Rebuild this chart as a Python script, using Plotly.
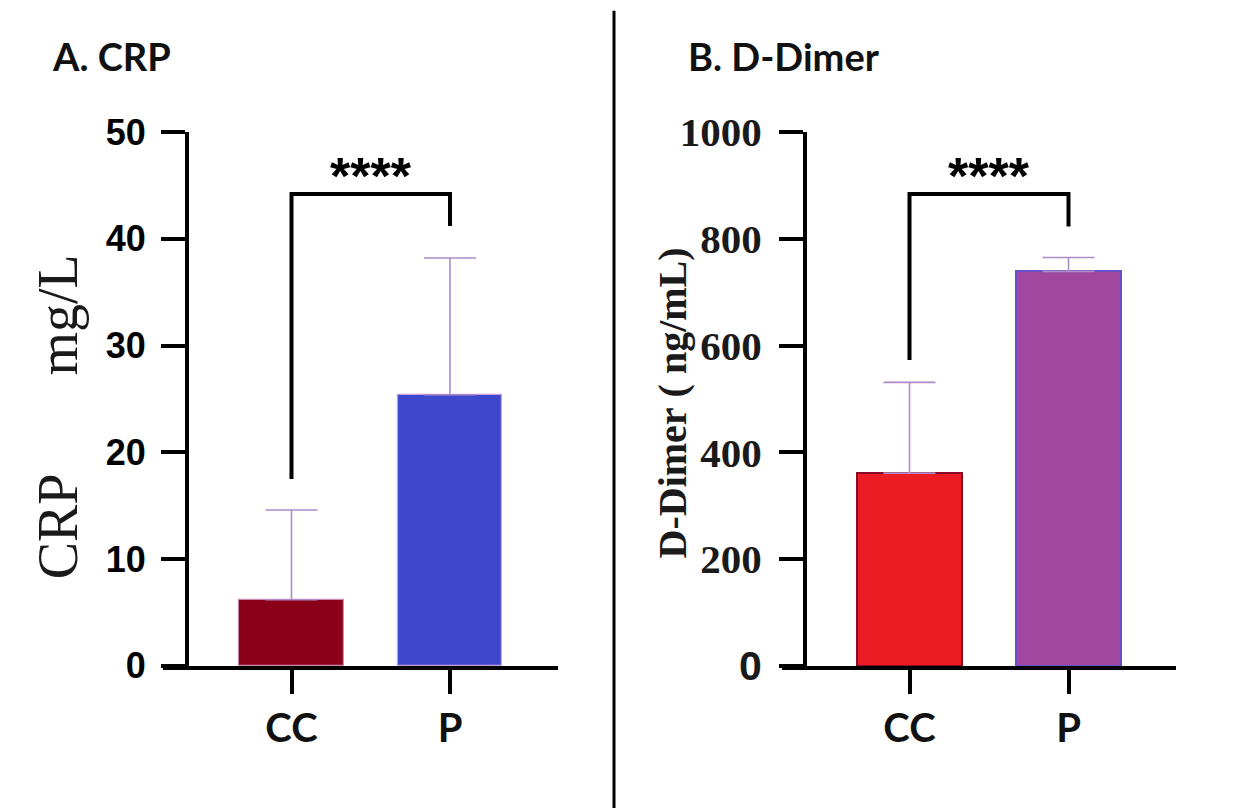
import plotly.graph_objects as go

# reference canvas; measured page mapping: screen_x = OX + fig_x, screen_y = AY + SY * fig_y
W, H = 1241, 808
OX = 8
AY, SY = 29.4, 0.948
FW, FH = W - OX, 800

# ---------------- data ----------------
groups = ["CC", "P"]
crp_mean = [6.2, 25.4]
crp_sd = [8.4, 12.8]
dd_mean = [361, 739]
dd_sd = [170, 26]

crp_ticks = [0, 10, 20, 30, 40, 50]
crp_ticktext = ["0", "10", "20", "30", "40", "50"]
dd_ticks = [0, 200, 400, 600, 800, 1000]
dd_ticktext = ["<span style='font-family:Liberation Sans'>0</span>", "200", "400", "600", "800", "1000"]

# significance brackets: [left leg bottom, bar height, right leg bottom, star centre]
crp_bracket = [17.5, 44.2, 41.2, 45.9]
dd_bracket = [573, 884, 823, 917]
sig_label = "****"

crp_colors = ["#8A0018", "#3F48CC"]
crp_lines = ["#C98BB0", "#C9A0D8"]
dd_colors = ["#EC1C24", "#A0479F"]
dd_lines = ["#8B0A2A", "#6A50C8"]
err_color = "#AD8AC8"


def px(v):
    return (v - OX) / FW


def py(v):
    return 1 - ((v - AY) / SY) / FH


fig = go.Figure()
xs = [0, 1]

fig.add_trace(go.Bar(
    x=xs, y=crp_mean, width=0.658, xaxis="x", yaxis="y",
    marker=dict(color=crp_colors, line=dict(color=crp_lines, width=1.2)),
    error_y=dict(type="data", array=crp_sd, arrayminus=[0, 0], symmetric=False,
                 color=err_color, thickness=1.6, width=26),
    showlegend=False, hoverinfo="skip"))

fig.add_trace(go.Bar(
    x=xs, y=dd_mean, width=0.655, xaxis="x2", yaxis="y2",
    marker=dict(color=dd_colors, line=dict(color=dd_lines, width=2)),
    error_y=dict(type="data", array=dd_sd, arrayminus=[0, 0], symmetric=False,
                 color=err_color, thickness=1.6, width=26),
    showlegend=False, hoverinfo="skip"))

ydom = [py(668), py(131)]
tickfont_x = dict(family="Lato", size=40, color="#111111", weight="bold")

fig.update_layout(
    width=FW, height=FH,
    margin=dict(l=0, r=0, t=0, b=0),
    paper_bgcolor="white", plot_bgcolor="rgba(0,0,0,0)",
    bargap=0,
    xaxis=dict(domain=[px(163), px(558)], range=[(163 - 291.5) / 158.5, (558 - 291.5) / 158.5],
               anchor="y", showgrid=False, zeroline=False, showline=True, linewidth=4,
               linecolor="black", ticks="outside", ticklen=24, tickwidth=4, tickcolor="black",
               tickvals=xs, ticktext=groups, tickfont=tickfont_x, fixedrange=True),
    yaxis=dict(domain=ydom, range=[0, 50], anchor="free", position=px(187),
               showgrid=False, zeroline=False, showline=True, linewidth=4, linecolor="black",
               ticks="outside", ticklen=24, tickwidth=4, tickcolor="black",
               tickvals=crp_ticks, ticktext=crp_ticktext, ticklabelstandoff=8,
               tickfont=dict(family="Liberation Sans", size=36, color="black", weight="bold"),
               fixedrange=True),
    xaxis2=dict(domain=[px(782), px(1176)], range=[(782 - 909.5) / 159, (1176 - 909.5) / 159],
                anchor="y2", showgrid=False, zeroline=False, showline=True, linewidth=4,
                linecolor="black", ticks="outside", ticklen=24, tickwidth=4, tickcolor="black",
                tickvals=xs, ticktext=groups, tickfont=tickfont_x, fixedrange=True),
    yaxis2=dict(domain=ydom, range=[0, 1000], anchor="free", position=px(805),
                showgrid=False, zeroline=False, showline=True, linewidth=4, linecolor="black",
                ticks="outside", ticklen=24, tickwidth=4, tickcolor="black",
                tickvals=dd_ticks, ticktext=dd_ticktext, ticklabelstandoff=9,
                tickfont=dict(family="Liberation Serif", size=41, color="#1a1a1a", weight="bold"),
                fixedrange=True),
)

shapes = []
# significance brackets
for xr, yr, b in (("x", "y", crp_bracket), ("x2", "y2", dd_bracket)):
    shapes.append(dict(type="path", xref=xr, yref=yr,
                       path=f"M 0,{b[0]} L 0,{b[1]} L 1,{b[1]} L 1,{b[2]}",
                       line=dict(color="black", width=4)))
# light frame of the scanned figure
shapes.append(dict(type="rect", xref="paper", yref="paper", x0=px(6), x1=1.2,
                   y0=-0.2, y1=py(5), line=dict(color="#DADADA", width=2)))
# divider
shapes.append(dict(type="line", xref="paper", yref="paper", x0=px(614), x1=px(614),
                   y0=-0.05, y1=py(9), line=dict(color="black", width=3)))
fig.update_layout(shapes=shapes)

star_font = dict(family="Liberation Sans", size=52, color="black", weight="bold")
annotations = [
    dict(text=sig_label, x=0.5, y=crp_bracket[3], xref="x", yref="y", showarrow=False,
         yanchor="middle", font=star_font),
    dict(text=sig_label, x=0.5, y=dd_bracket[3], xref="x2", yref="y2", showarrow=False,
         yanchor="middle", font=star_font),
    dict(text="A. CRP", x=px(50), y=py(55), xref="paper", yref="paper", xanchor="left",
         yanchor="middle", showarrow=False,
         font=dict(family="Lato", size=38, color="#111111", weight="bold")),
    dict(text="B. D-Dimer", x=px(686), y=py(55), xref="paper", yref="paper", xanchor="left",
         yanchor="middle", showarrow=False,
         font=dict(family="Lato", size=38, color="#111111", weight="bold")),
    dict(text="CRP" + "\u00a0" * 7 + "mg/L", x=px(58), y=py(418), xref="paper",
         yref="paper", textangle=-90, showarrow=False, xanchor="center", yanchor="middle",
         font=dict(family="Liberation Serif", size=56, color="#1a1a1a")),
    dict(text="D-Dimer\u00a0(\u00a0ng/mL)", x=px(672), y=py(404), xref="paper",
         yref="paper", textangle=-90, showarrow=False, xanchor="center", yanchor="middle",
         font=dict(family="Liberation Serif", size=40, color="#1a1a1a", weight="bold")),
]
fig.update_layout(annotations=annotations)

fig.write_html("out.html")
